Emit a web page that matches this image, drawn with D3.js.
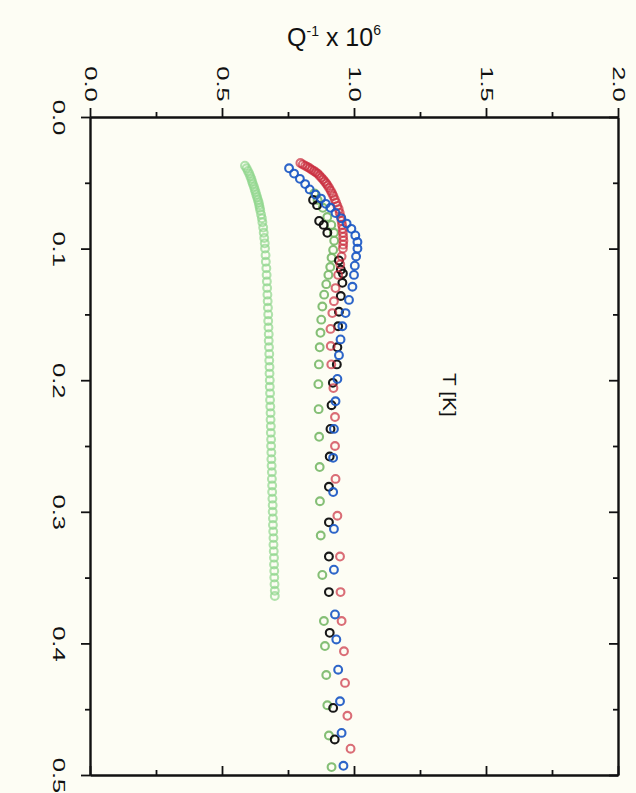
<!DOCTYPE html>
<html>
<head>
<meta charset="utf-8">
<script src="https://cdn.jsdelivr.net/npm/d3@7"></script>
<style>
  body { margin: 0; background: #fdfdf4; }
  svg { display: block; }
  text { font-family: "Liberation Sans", Arial, sans-serif; fill: #111; }
</style>
</head>
<body>
<div id="chart"></div>
<script>
var width = 636,
    height = 793;

// tick values
var qTicks = [0, 0.5, 1.0, 1.5, 2.0];
var qMinor = [0.25, 0.75, 1.25, 1.75];
var tTicks = [0, 0.1, 0.2, 0.3, 0.4, 0.5];
var tMinor = [0.05, 0.15, 0.25, 0.35, 0.45];

// light green series (dense)
var greenDenseT = [0.037,0.039,0.041,0.043,0.045,0.047,0.049,0.051,0.053,0.055,0.057,0.059,0.061,0.063,0.065,0.067,0.069,0.071,0.074,0.077,0.080,0.084,0.088,0.092,0.096,0.100,0.105,0.110,0.115,0.120,0.125,0.130,0.135,0.140,0.145,0.150,0.155,0.160,0.165,0.170,0.175,0.180,0.185,0.190,0.195,0.200,0.205,0.210,0.215,0.220,0.225,0.230,0.235,0.240,0.245,0.250,0.255,0.260,0.265,0.270,0.275,0.280,0.285,0.290,0.295,0.300,0.305,0.310,0.315,0.320,0.325,0.330,0.335,0.340,0.345,0.350,0.355,0.360,0.364];
var greenDenseQ = [0.587,0.593,0.598,0.603,0.607,0.611,0.614,0.617,0.621,0.624,0.627,0.630,0.633,0.636,0.639,0.641,0.643,0.645,0.648,0.651,0.653,0.656,0.658,0.660,0.662,0.663,0.665,0.666,0.668,0.669,0.670,0.671,0.672,0.673,0.674,0.675,0.675,0.676,0.677,0.677,0.678,0.679,0.679,0.680,0.680,0.681,0.681,0.682,0.682,0.683,0.684,0.684,0.685,0.685,0.686,0.686,0.687,0.687,0.688,0.689,0.689,0.690,0.690,0.691,0.692,0.692,0.693,0.693,0.694,0.695,0.695,0.696,0.697,0.697,0.698,0.698,0.699,0.700,0.700];

// darker green series
var greenT = [0.058,0.063,0.069,0.076,0.082,0.088,0.094,0.101,0.107,0.114,0.120,0.127,0.135,0.144,0.154,0.164,0.175,0.188,0.203,0.222,0.243,0.266,0.292,0.318,0.348,0.383,0.402,0.424,0.447,0.470,0.494];
var greenQ = [0.850,0.862,0.882,0.899,0.914,0.924,0.925,0.921,0.915,0.910,0.903,0.895,0.887,0.880,0.876,0.873,0.870,0.867,0.865,0.866,0.868,0.870,0.871,0.874,0.880,0.886,0.890,0.895,0.899,0.905,0.915];

// black series
var blackT = [0.063,0.067,0.079,0.082,0.088,0.109,0.116,0.119,0.126,0.136,0.148,0.159,0.175,0.188,0.202,0.219,0.237,0.258,0.281,0.308,0.334,0.361,0.392,0.449,0.473];
var blackQ = [0.845,0.860,0.868,0.885,0.899,0.943,0.950,0.958,0.956,0.950,0.943,0.940,0.937,0.935,0.920,0.915,0.911,0.908,0.905,0.905,0.905,0.905,0.908,0.921,0.927];

// red series
var redT = [0.035,0.036,0.037,0.038,0.039,0.040,0.041,0.042,0.043,0.0445,0.046,0.0475,0.049,0.0505,0.052,0.054,0.056,0.058,0.060,0.0625,0.065,0.0675,0.070,0.073,0.076,0.079,0.082,0.085,0.088,0.091,0.094,0.097,0.100,0.106,0.112,0.120,0.130,0.140,0.149,0.161,0.174,0.188,0.206,0.228,0.250,0.275,0.303,0.334,0.361,0.383,0.406,0.430,0.455,0.480];
var redQ = [0.797,0.806,0.815,0.824,0.832,0.840,0.848,0.855,0.862,0.869,0.876,0.883,0.889,0.895,0.900,0.906,0.912,0.917,0.922,0.927,0.932,0.937,0.942,0.946,0.950,0.953,0.955,0.957,0.958,0.959,0.960,0.959,0.958,0.953,0.948,0.940,0.930,0.924,0.918,0.911,0.912,0.914,0.922,0.928,0.928,0.930,0.937,0.947,0.949,0.953,0.962,0.966,0.975,0.987];

// blue series
var blueT = [0.039,0.043,0.047,0.051,0.055,0.059,0.062,0.066,0.069,0.073,0.077,0.081,0.085,0.090,0.095,0.100,0.106,0.113,0.120,0.129,0.139,0.149,0.159,0.169,0.181,0.199,0.216,0.237,0.259,0.285,0.313,0.344,0.378,0.397,0.420,0.444,0.468,0.493];
var blueQ = [0.754,0.773,0.795,0.815,0.832,0.855,0.875,0.893,0.911,0.930,0.952,0.972,0.990,1.005,1.013,1.013,1.008,1.003,1.000,0.994,0.981,0.968,0.956,0.949,0.943,0.937,0.930,0.924,0.921,0.921,0.924,0.924,0.928,0.933,0.940,0.947,0.953,0.960];

var series = [
    { name: "greenDense", t: greenDenseT, q: greenDenseQ, color: "#8fd68c", opacity: 0.7 },
    { name: "green", t: greenT, q: greenQ, color: "#78b868", opacity: 0.9 },
    { name: "black", t: blackT, q: blackQ, color: "#0c0c0c", opacity: 0.95 },
    { name: "red", t: redT, q: redQ, color: "#c8283a", opacity: 0.68 },
    { name: "blue", t: blueT, q: blueQ, color: "#1b58c4", opacity: 0.92 }
];

var x = d3.scaleLinear().domain([0, 2]).range([90, 618]);
var y = d3.scaleLinear().domain([0, 0.5]).range([117, 775]);

var svg = d3.select("#chart")
    .append("svg")
    .attr("width", width)
    .attr("height", height);

svg.append("rect")
    .attr("width", width)
    .attr("height", height)
    .attr("fill", "#fdfdf4");

// top axis with labels
var topAxis = svg.append("g")
    .attr("transform", "translate(0," + y(0) + ")")
    .call(d3.axisTop(x).tickValues(qTicks).tickSize(9).tickSizeOuter(0).tickFormat(d3.format(".1f")));

topAxis.selectAll("text")
    .attr("y", null)
    .attr("dy", null)
    .attr("text-anchor", "middle")
    .attr("dominant-baseline", "central")
    .attr("transform", "translate(0,-33) rotate(90) scale(1.5,1)");

svg.append("g")
    .attr("transform", "translate(0," + y(0) + ")")
    .call(d3.axisTop(x).tickValues(qMinor).tickSize(5).tickSizeOuter(0).tickFormat(""));

// bottom axis, ticks pointing in
svg.append("g")
    .attr("transform", "translate(0," + y(0.5) + ")")
    .call(d3.axisTop(x).tickValues(qTicks).tickSize(9).tickSizeOuter(0).tickFormat(""));
svg.append("g")
    .attr("transform", "translate(0," + y(0.5) + ")")
    .call(d3.axisTop(x).tickValues(qMinor).tickSize(5).tickSizeOuter(0).tickFormat(""));

// left axis with labels
var leftAxis = svg.append("g")
    .attr("transform", "translate(" + x(0) + ",0)")
    .call(d3.axisLeft(y).tickValues(tTicks).tickSize(9).tickSizeOuter(0).tickFormat(d3.format(".1f")));

leftAxis.selectAll("text")
    .attr("x", null)
    .attr("dy", null)
    .attr("text-anchor", "middle")
    .attr("dominant-baseline", "central")
    .attr("transform", "translate(-31,0) rotate(90) scale(1.5,1)");

svg.append("g")
    .attr("transform", "translate(" + x(0) + ",0)")
    .call(d3.axisLeft(y).tickValues(tMinor).tickSize(5).tickSizeOuter(0).tickFormat(""));

// right axis, ticks pointing in
svg.append("g")
    .attr("transform", "translate(" + x(2) + ",0)")
    .call(d3.axisLeft(y).tickValues(tTicks).tickSize(9).tickSizeOuter(0).tickFormat(""));
svg.append("g")
    .attr("transform", "translate(" + x(2) + ",0)")
    .call(d3.axisLeft(y).tickValues(tMinor).tickSize(5).tickSizeOuter(0).tickFormat(""));

svg.selectAll(".domain").attr("stroke", "#111").attr("stroke-width", 1.9);
svg.selectAll(".tick line").attr("stroke", "#111").attr("stroke-width", 1.8);
svg.selectAll(".tick text").style("font-size", "17px").attr("fill", "#111");

// axis titles
var qTitle = svg.append("text")
    .attr("x", 334)
    .attr("y", 46)
    .attr("text-anchor", "middle")
    .style("font-size", "25px");
qTitle.append("tspan").text("Q");
qTitle.append("tspan").attr("dy", -10).style("font-size", "14px").text("-1");
qTitle.append("tspan").attr("dy", 10).text(" x 10");
qTitle.append("tspan").attr("dy", -11).style("font-size", "14px").text("6");

svg.append("text")
    .attr("text-anchor", "middle")
    .attr("dominant-baseline", "central")
    .attr("transform", "translate(450,395) rotate(90) scale(1.1,1)")
    .style("font-size", "19px")
    .text("T [K]");

// data points
series.forEach(function (s) {
    var pts = s.t.map(function (t, i) {
        return { t: t, q: s.q[i] };
    });
    svg.append("g")
        .attr("class", s.name)
        .selectAll("circle")
        .data(pts)
        .enter()
        .append("circle")
        .attr("cx", function (d) { return x(d.q); })
        .attr("cy", function (d) { return y(d.t); })
        .attr("r", 3.9)
        .attr("fill", "none")
        .attr("stroke", s.color)
        .attr("stroke-opacity", s.opacity)
        .attr("stroke-width", 2.1);
});
</script>
</body>
</html>
